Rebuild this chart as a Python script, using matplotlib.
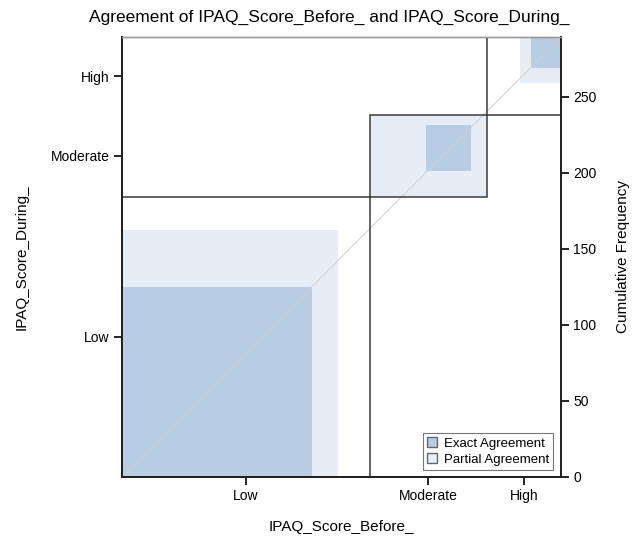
import numpy as np
import matplotlib
matplotlib.use("Agg")
import matplotlib.pyplot as plt
from matplotlib.patches import Rectangle, Patch

plt.rcParams['font.family'] = ['Liberation Sans', 'DejaVu Sans']

# contingency table: rows = IPAQ_Score_Before_ (x), cols = IPAQ_Score_During_ (y)
categories = ['Low', 'Moderate', 'High']
counts = np.array([[125, 17, 21],
                   [37, 30, 10],
                   [22, 7, 20]])

exact_color = '#b8cce4'
partial_color = '#e6edf7'

row_tot = counts.sum(axis=1)
col_tot = counts.sum(axis=0)
N = counts.sum()
row_cum = np.concatenate([[0], np.cumsum(row_tot)])
col_cum = np.concatenate([[0], np.cumsum(col_tot)])
k_n = len(categories)

fig = plt.figure(figsize=(6.35, 5.39), dpi=100)
ax = fig.add_axes([122/635, 1 - 476.5/539, 439/635, 439.2/539])

for k in range(k_n):
    x0, y0 = row_cum[k], col_cum[k]
    # partial agreement: adjacent off-diagonal cells
    lo = max(k - 1, 0)
    hi = min(k + 1, k_n - 1)
    px = x0 + counts[k, :lo].sum()
    pw = counts[k, lo:hi + 1].sum()
    py = y0 + counts[:lo, k].sum()
    ph = counts[lo:hi + 1, k].sum()
    ax.add_patch(Rectangle((px, py), pw, ph, facecolor=partial_color, edgecolor='none', zorder=1))
    # exact agreement
    ex = x0 + counts[k, :k].sum()
    ey = y0 + counts[:k, k].sum()
    ax.add_patch(Rectangle((ex, ey), counts[k, k], counts[k, k],
                           facecolor=exact_color, edgecolor='none', zorder=2))

# diagonal reference line
ax.plot([0, N], [0, N], color='#d0d0d0', lw=0.7, zorder=3)

# category rectangles
for k in range(k_n):
    ax.add_patch(Rectangle((row_cum[k], col_cum[k]), row_tot[k], col_tot[k],
                           facecolor='none', edgecolor='#3a3a3a', lw=1.1, zorder=4))

ax.set_xlim(0, N)
ax.set_ylim(0, N)

xmid = (row_cum[:-1] + row_cum[1:]) / 2
ymid = (col_cum[:-1] + col_cum[1:]) / 2
ax.set_xticks(xmid)
ax.set_xticklabels(categories)
ax.set_yticks(ymid)
ax.set_yticklabels(categories)
ax.tick_params(axis='both', direction='out', length=6, width=1.2, labelsize=10, pad=3)

ax2 = ax.twinx()
ax2.set_ylim(0, N)
ax2.set_yticks([0, 50, 100, 150, 200, 250])
ax2.tick_params(axis='y', direction='out', length=6, width=1.2, labelsize=10, pad=3)
ax2.set_ylabel('Cumulative Frequency', fontsize=11, labelpad=14)

for a in (ax, ax2):
    for side in ('left', 'bottom', 'right'):
        a.spines[side].set_color('#222222')
        a.spines[side].set_linewidth(1.4)
    a.spines['top'].set_color('#999999')
    a.spines['top'].set_linewidth(1.0)

ax.set_xlabel('IPAQ_Score_Before_', fontsize=11, labelpad=12)
ax.set_ylabel('IPAQ_Score_During_', fontsize=11, labelpad=16)

fig.text(329/635, 1 - 17/539, 'Agreement of IPAQ_Score_Before_ and IPAQ_Score_During_',
         ha='center', va='center', fontsize=12.5)

handles = [Patch(facecolor=exact_color, edgecolor='#666666', label='Exact Agreement'),
           Patch(facecolor=partial_color, edgecolor='#666666', label='Partial Agreement')]
leg = ax2.legend(handles=handles, loc='lower right', bbox_to_anchor=(0.982, 0.015),
                 fontsize=9.5, frameon=True, fancybox=False, edgecolor='#555555',
                 handlelength=0.8, handleheight=0.8, handletextpad=0.5,
                 borderpad=0.3, labelspacing=0.25, borderaxespad=0)
leg.get_frame().set_linewidth(0.8)

fig.savefig('out.png', dpi=100)
